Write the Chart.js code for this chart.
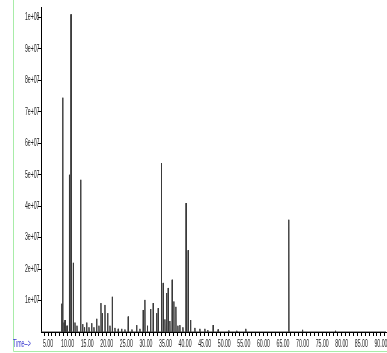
<!DOCTYPE html>
<html>
<head>
<meta charset="utf-8">
<script src="https://cdn.jsdelivr.net/npm/chart.js@4.4.1/dist/chart.umd.min.js"></script>
<style>
html,body{margin:0;padding:0;background:#fff;overflow:hidden}
</style>
</head>
<body>
<canvas id="ticChart" width="387" height="353"></canvas>
<script>
// retention times (min) and abundances
const peakTimes = [
8.49, 8.75, 9.08, 9.34, 9.85, 10.45, 10.87, 11.45, 11.89, 12.4,
13.34, 13.85, 14.3, 14.87, 15.46, 16.15, 16.73, 17.42, 18.0, 18.52,
18.85, 19.54, 20.23, 20.82, 21.4, 22.09, 22.93, 23.8, 24.64, 25.48,
26.43, 27.63, 28.47, 29.31, 29.74, 30.38, 31.2, 31.86, 32.73, 33.14,
33.95, 34.41, 34.85, 35.28, 35.69, 36.12, 36.71, 37.14, 37.65, 38.16,
38.67, 39.44, 40.26, 40.79, 41.4, 42.5, 43.78, 45.05, 45.8, 47.17,
48.44, 51.17, 53.2, 55.5, 66.48, 69.97, 78.39
];
const peakHeights = [
0.9e7, 7.45e7, 0.3e7, 0.38e7, 0.2e7, 5.0e7, 10.1e7, 2.2e7, 0.3e7, 0.2e7,
4.84e7, 0.25e7, 0.15e7, 0.3e7, 0.15e7, 0.28e7, 0.15e7, 0.42e7, 0.2e7, 0.92e7,
0.6e7, 0.86e7, 0.6e7, 0.2e7, 1.12e7, 0.13e7, 0.1e7, 0.1e7, 0.08e7, 0.49e7,
0.08e7, 0.22e7, 0.1e7, 0.7e7, 1.02e7, 0.2e7, 0.73e7, 0.92e7, 0.6e7, 0.76e7,
5.37e7, 1.56e7, 0.4e7, 1.24e7, 1.4e7, 0.35e7, 1.66e7, 0.97e7, 0.8e7, 0.2e7,
0.22e7, 0.15e7, 4.1e7, 2.6e7, 0.38e7, 0.13e7, 0.1e7, 0.1e7, 0.06e7, 0.22e7,
0.08e7, 0.05e7, 0.04e7, 0.1e7, 3.57e7, 0.07e7, 0.04e7
];
const yTickValues = [1e7, 2e7, 3e7, 4e7, 5e7, 6e7, 7e7, 8e7, 9e7, 1e8];
const xLabelTimes = [5,10,15,20,25,30,35,40,45,50,55,60,65,70,75,80,85,90];
const timeRange = [3.21, 91.3];
const abundanceMax = 1.0334e8;

const HALF = 0.06;
const trace = [{x: timeRange[0], y: 0}];
peakTimes.forEach((t, i) => {
  trace.push({x: t - HALF, y: 0}, {x: t, y: peakHeights[i]}, {x: t + HALF, y: 0});
});
trace.push({x: timeRange[1], y: 0});

const minorTicks = [];
for (let m = Math.ceil(timeRange[0]); m <= Math.floor(timeRange[1]); m++) minorTicks.push(m);

function sci(v) {
  const e = Math.floor(Math.log10(v) + 1e-9);
  const m = Math.round(v / Math.pow(10, e));
  return m + 'e+' + String(e).padStart(2, '0');
}

const SQUEEZE = 0.52;
const LABEL_FONT = "10px 'Liberation Sans', Arial, sans-serif";

// the original print uses very condensed labels, so draw them squeezed
function narrowText(c, text, x, y, align) {
  const w = c.measureText(text).width * SQUEEZE;
  const left = align === 'right' ? x - w : align === 'center' ? x - w / 2 : x;
  c.textAlign = 'left';
  c.fillText(text, left, y, w);
}

const frame = {
  id: 'frame',
  beforeDraw(chart) {
    const c = chart.ctx;
    c.save();
    c.strokeStyle = '#a8eca8';
    c.lineWidth = 1;
    c.beginPath();
    c.moveTo(13.5, 0);
    c.lineTo(13.5, 351.5);
    c.lineTo(387, 351.5);
    c.stroke();
    c.restore();
  },
  afterDraw(chart) {
    const c = chart.ctx;
    const xs = chart.scales.x, ys = chart.scales.y;
    c.save();
    c.font = LABEL_FONT;
    c.textBaseline = 'middle';
    c.fillStyle = '#222';
    xLabelTimes.forEach(t => narrowText(c, t.toFixed(2), xs.getPixelForValue(t), 344, 'center'));
    yTickValues.forEach(v => narrowText(c, sci(v), 39.5, ys.getPixelForValue(v), 'right'));
    c.fillStyle = '#3a3ad0';
    narrowText(c, 'Time-->', 13, 344, 'left');
    c.restore();
  }
};

new Chart(document.getElementById('ticChart'), {
  type: 'line',
  data: {
    datasets: [{
      data: trace,
      borderColor: '#3a3a3a',
      borderWidth: 1,
      pointRadius: 0,
      tension: 0,
      fill: false
    }]
  },
  options: {
    responsive: false,
    animation: false,
    layout: {padding: {top: 7, right: 1, left: 0, bottom: 0}, autoPadding: false},
    plugins: {legend: {display: false}, tooltip: {enabled: false}},
    scales: {
      x: {
        type: 'linear',
        min: timeRange[0],
        max: timeRange[1],
        afterBuildTicks: s => { s.ticks = minorTicks.map(v => ({value: v})); },
        afterFit: s => { s.height = 21; },
        ticks: {display: false},
        grid: {drawOnChartArea: false, tickLength: 4, color: '#000'},
        border: {color: '#000'}
      },
      y: {
        min: 0,
        max: abundanceMax,
        afterBuildTicks: s => { s.ticks = yTickValues.map(v => ({value: v})); },
        afterFit: s => { s.width = 41; },
        ticks: {display: false},
        grid: {drawOnChartArea: false, tickLength: 3, color: '#000'},
        border: {color: '#000'}
      }
    }
  },
  plugins: [frame]
});
</script>
</body>
</html>
